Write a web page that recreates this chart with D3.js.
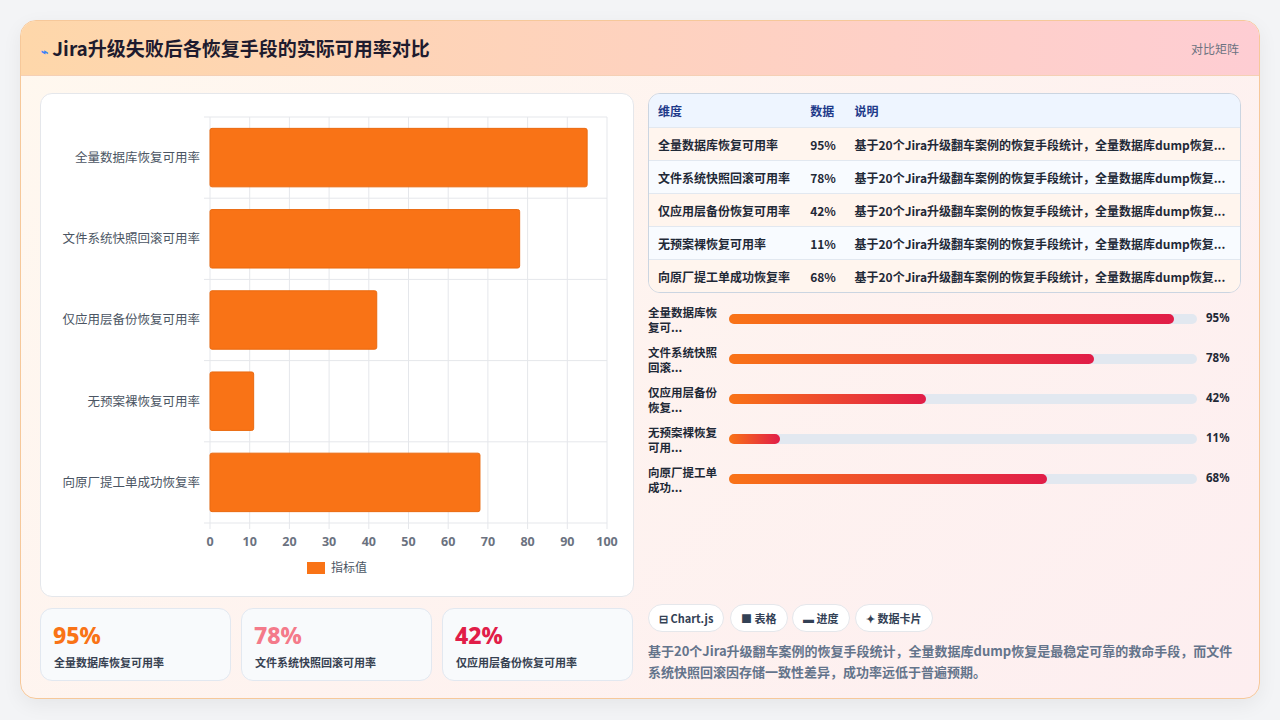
<!DOCTYPE html><html><head><meta charset="utf-8">
<script src="https://cdn.jsdelivr.net/npm/d3@7"></script>
<style>
*{box-sizing:border-box;margin:0;padding:0}
body{width:1280px;height:720px;background:#f3f4f6;font-family:"Noto Sans CJK SC","Noto Sans",sans-serif;position:relative;overflow:hidden}
.card{position:absolute;left:20px;top:20px;width:1240px;height:679px;border:1px solid #f6c89a;border-radius:16px;overflow:hidden;background:linear-gradient(135deg,#fff8ef,#fdeef0);box-shadow:0 6px 20px rgba(0,0,0,.06)}
.hdr{position:absolute;left:0;top:0;width:100%;height:55px;background:linear-gradient(90deg,#fed7aa,#fecdd3);border-bottom:1px solid #f5d0b5}
.hdr h1{position:absolute;left:20px;top:13px;font-size:19px;font-weight:700;color:#1e1b2e}
.hdr .tag{position:absolute;right:20px;top:19px;font-size:12px;color:#6b7280}
.panel{position:absolute;background:#fff;border:1px solid #e5e7eb;border-radius:12px}
.kpi{position:absolute;top:587px;width:191px;height:73px;background:#f8fafc;border:1px solid #e2e8f0;border-radius:12px}
.kpi .v{position:absolute;left:12px;top:10px;font-size:23px;font-weight:800;font-family:"Noto Sans",sans-serif}
.kpi .l{position:absolute;left:13px;top:45px;font-size:11px;font-weight:700;color:#374151}
table{position:absolute;left:627px;top:72px;width:593px;border-collapse:separate;border-spacing:0;border:1px solid #cbd5e1;border-radius:12px;overflow:hidden;font-size:12px;font-weight:700;color:#1f2937}
td,th{height:33px;padding:0 9px;text-align:left;border-top:1px solid #e2e8f0;white-space:nowrap}
th{background:#eef5ff;color:#1e3a8a;border-top:none;height:33px}
tr:nth-child(odd) td{background:#f8fbff}tr:nth-child(even) td{background:#fff5ee}
.chip{position:absolute;top:583px;height:28px;border:1px solid #e5e7eb;border-radius:14px;background:#fff;font-size:11px;font-weight:700;color:#334155;line-height:26px;padding:0 10px;white-space:nowrap}
.desc{position:absolute;left:627px;top:619px;width:596px;font-size:13px;font-weight:700;color:#64748b;line-height:21px}
.pl{position:absolute;left:627px;font-size:11.5px;font-weight:700;color:#1f2937;line-height:15px;width:80px}
</style></head><body>
<div class="card" id="card">
<div class="hdr"><h1><span style="color:#3b82f6;font-size:12px">⌁</span> Jira升级失败后各恢复手段的实际可用率对比</h1><div class="tag">对比矩阵</div></div>
<div class="panel" style="left:19px;top:72px;width:594px;height:504px"><svg id="chart" width="594" height="504"></svg></div>
</div>
<script>
const categories=["全量数据库恢复可用率","文件系统快照回滚可用率","仅应用层备份恢复可用率","无预案裸恢复可用率","向原厂提工单成功恢复率"];
const values=[95,78,42,11,68];
const shortLabels=[["全量数据库恢","复可..."],["文件系统快照","回滚..."],["仅应用层备份","恢复..."],["无预案裸恢复","可用..."],["向原厂提工单","成功..."]];
const xTicks=[0,10,20,30,40,50,60,70,80,90,100];
const kpiColors=["#f97316","#f47a8a","#e11d48"];
const note="基于20个Jira升级翻车案例的恢复手段统计，全量数据库dump恢复...";
const desc="基于20个Jira升级翻车案例的恢复手段统计，全量数据库dump恢复是最稳定可靠的救命手段，而文件系统快照回滚因存储一致性差异，成功率远低于普遍预期。";
const chips=["⊟ Chart.js","■ 表格","▬ 进度","✦ 数据卡片"];

const svg=d3.select("#chart"),ox=169,oy=23,w=397,h=406;
const x=d3.scaleLinear().domain([0,100]).range([0,w]);
const y=d3.scaleBand().domain(categories).range([0,h]).paddingInner(0.28).paddingOuter(0.14);
const g=svg.append("g").attr("transform",`translate(${ox},${oy})`);
g.selectAll(".gx").data(xTicks).join("line").attr("x1",d=>x(d)).attr("x2",d=>x(d)).attr("y1",0).attr("y2",h+6).attr("stroke","#e5e7eb");
const yb=d3.scaleBand().domain(categories).range([0,h]);
g.selectAll(".gy").data(d3.range(6)).join("line").attr("x1",-6).attr("x2",w).attr("y1",d=>d*h/5).attr("y2",d=>d*h/5).attr("stroke","#e5e7eb");
g.selectAll("rect.b").data(values).join("rect").attr("x",0).attr("y",(d,i)=>y(categories[i])).attr("width",d=>x(d)).attr("height",y.bandwidth()).attr("fill","#f97316").attr("stroke","#ea6a10").attr("rx",2);
g.selectAll("text.c").data(categories).join("text").attr("x",-10).attr("y",d=>yb(d)+yb.bandwidth()/2).attr("dy","0.35em").attr("text-anchor","end").attr("font-size",12.5).attr("fill","#4b5563").text(d=>d);
g.selectAll("text.t").data(xTicks).join("text").attr("x",d=>x(d)).attr("y",h+23).attr("text-anchor","middle").attr("font-size",12.5).attr("font-weight",700).attr("fill","#6b7280").attr("font-family","Noto Sans").text(d=>d);
svg.append("rect").attr("x",266).attr("y",468).attr("width",18).attr("height",12).attr("fill","#f97316");
svg.append("text").attr("x",290).attr("y",478).attr("font-size",12).attr("fill","#4b5563").text("指标值");

const card=d3.select("#card");
[0,1,2].forEach(i=>{const k=card.append("div").attr("class","kpi").style("left",(19+i*201)+"px");
k.append("div").attr("class","v").style("color",kpiColors[i]).text(values[i]+"%");k.append("div").attr("class","l").text(categories[i]);});

const tb=card.append("table");
const hr=tb.append("tr");["维度","数据","说明"].forEach(t=>hr.append("th").text(t));
categories.forEach((c,i)=>{const r=tb.append("tr");r.append("td").text(c);r.append("td").text(values[i]+"%");r.append("td").text(note);});

const px=d3.scaleLinear().domain([0,100]).range([0,468]);
categories.forEach((c,i)=>{const top=284+i*40;
card.append("div").attr("class","pl").style("top",top+"px").html(shortLabels[i].join("<br>"));
card.append("div").style("position","absolute").style("left","708px").style("top",(top+9)+"px").style("width",px(100)+"px").style("height",10).style("height","10px").style("border-radius","5px").style("background","#e2e8f0");
card.append("div").style("position","absolute").style("left","708px").style("top",(top+9)+"px").style("width",px(values[i])+"px").style("height","10px").style("border-radius","5px").style("background","linear-gradient(90deg,#f97316,#e11d48)");
card.append("div").style("position","absolute").style("left","1185px").style("top",(top+5)+"px").style("font-size","11.5px").style("font-weight","700").style("color","#1f2937").style("font-family","Noto Sans").text(values[i]+"%");});

const cx=[627,709,771,834];
chips.forEach((t,i)=>card.append("div").attr("class","chip").style("left",cx[i]+"px").text(t));
card.append("div").attr("class","desc").text(desc);
</script></body></html>
